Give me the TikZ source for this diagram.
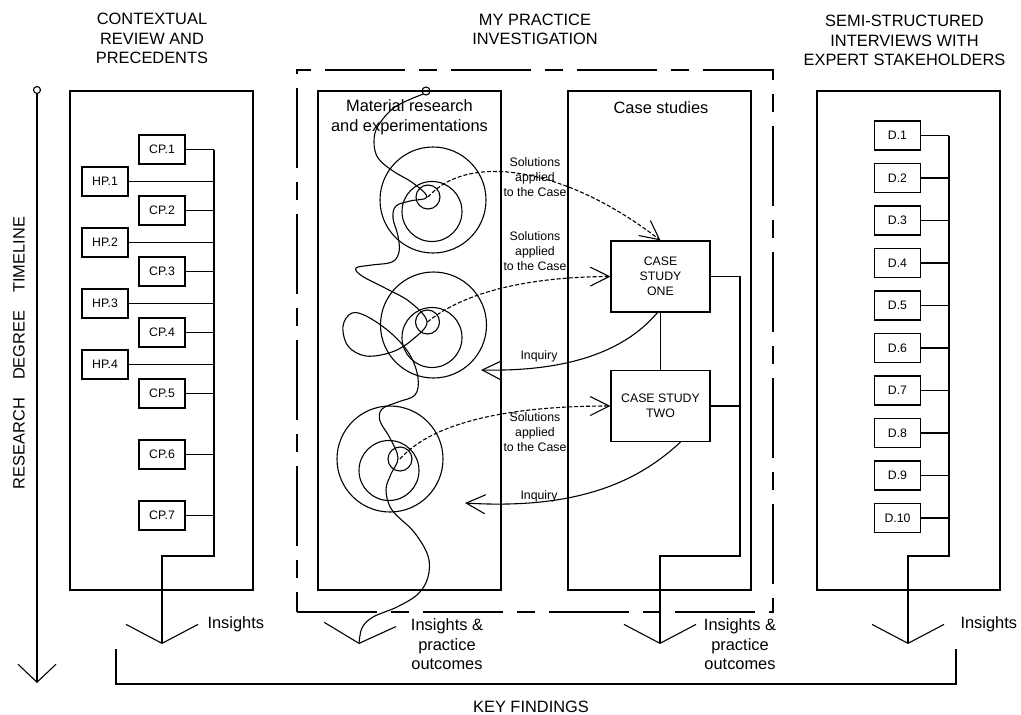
\documentclass[tikz,border=0pt]{standalone}
\usepackage{fontspec}
\setmainfont{Liberation Sans}
\usetikzlibrary{arrows.meta}
\newcommand{\headfont}{\fontsize{16.4}{19.5}\selectfont}
\newcommand{\notefont}{\fontsize{12.3}{15}\selectfont}

\begin{document}
\begin{tikzpicture}[
  x=1pt, y=-1pt,
  line width=1.1pt,
  heading/.style={align=center, font=\headfont, inner sep=0pt},
  notetext/.style={align=center, font=\notefont, inner sep=0pt},
  bigbox/.style={draw, minimum width=183pt, minimum height=499pt, inner sep=0pt},
  itembox/.style={draw, minimum width=46pt, minimum height=29pt, inner sep=0pt, font=\notefont},
  casebox/.style={draw, minimum width=99pt, minimum height=71pt, inner sep=0pt,
                  align=center, font=\notefont},
  ring/.style={draw, circle, inner sep=0pt},
  dashlink/.style={dash pattern=on 4pt off 2pt, -{Straight Barb[length=19pt, width=19pt]}},
  inquiry/.style={-{Straight Barb[length=19pt, width=19pt]}},
  outarrow/.style={-{Straight Barb[length=19pt, width=72pt]}}
]
  \useasboundingbox (0,0) rectangle (1021,715);

  % timeline
  \node[ring, minimum size=7pt] (tlstart) at (37,90) {};
  \coordinate (tlend) at (37,683);
  \draw[-{Straight Barb[length=18pt, width=38pt]}] (tlstart) -- (tlend);
  \node[heading, rotate=90] (tllabel) at (19,353)
    {RESEARCH\hspace{1.1em}DEGREE\hspace{1.1em}TIMELINE};

  % headings
  \node[heading] (ctxhead) at (152,38.5) {CONTEXTUAL\\REVIEW AND\\PRECEDENTS};
  \node[heading] (prachead) at (535,29.5) {MY PRACTICE\\INVESTIGATION};
  \node[heading] (inthead) at (904.5,40.5) {SEMI-STRUCTURED\\INTERVIEWS WITH\\EXPERT STAKEHOLDERS};

  % frames
  \node[draw, minimum width=476pt, minimum height=542pt, inner sep=0pt,
        dash pattern=on 80pt off 14pt on 18pt off 14pt] (practice) at (535,341) {};
  \node[bigbox] (ctx) at (161.5,340.5) {};
  \node[bigbox] (mat) at (409.5,340.5) {};
  \node[bigbox] (case) at (659.5,340.5) {};
  \node[bigbox] (int) at (908.5,340.5) {};
  \node[heading] (mattitle) at (409.5,117.5) {Material research\\and experimentations};
  \node[heading] (casetitle) at (661,108) {Case studies};

  % contextual review
  \coordinate (ctxbend) at (214,556);
  \coordinate (ctxout) at (162,644);
  \foreach \i/\y in {1/149.5, 2/210.5, 3/271.5, 4/332.5, 5/393.5, 6/454.5, 7/515.5} {
    \node[itembox] (cp\i) at (162,\y) {CP.\i};
    \draw (cp\i.east) -- (cp\i.east -| ctxbend);
  }
  \foreach \i/\y in {1/181.5, 2/242.5, 3/303.5, 4/364.5} {
    \node[itembox] (hp\i) at (105,\y) {HP.\i};
    \draw (hp\i.east) -- (hp\i.east -| ctxbend);
  }
  \draw[outarrow] (cp1.east -| ctxbend) -- (ctxbend) -| (ctxout);
  \node[heading, anchor=west] (ctxins) at (207,624) {Insights};

  % interviews
  \coordinate (intbend) at (949,556);
  \coordinate (intout) at (908,644);
  \foreach \i in {1,...,10} {
    \node[itembox] (d\i) at (897.5,{135.5+42.5*(\i-1)}) {D.\i};
    \draw (d\i.east) -- (d\i.east -| intbend);
  }
  \draw[outarrow] (d1.east -| intbend) -- (intbend) -| (intout);
  \node[heading, anchor=west] (intins) at (960,624) {Insights};

  % case studies
  \node[casebox] (cs1) at (660.5,276.5) {CASE\\STUDY\\ONE};
  \node[casebox] (cs2) at (660.5,406) {CASE STUDY\\TWO};
  \draw (cs1) -- (cs2);
  \coordinate (casebend) at (740,556);
  \coordinate (caseout) at (660,644);
  \draw (cs2.east) -- (cs2.east -| casebend);
  \draw[outarrow] (cs1.east) -| (casebend) -| (caseout);
  \node[heading] (caseins) at (740,644.5) {Insights \&\\practice\\outcomes};
  \node[heading] (matins) at (447,644.5) {Insights \&\\practice\\outcomes};

  % material research rings
  \foreach \g/\ox/\oy/\mx/\my/\sx/\sy in {a/433/200/432/211.5/428/197,
      b/433.5/325/432/337.5/427.5/322, c/390/459/389/470.5/400/459} {
    \node[ring, minimum size=106pt] (outer\g) at (\ox,\oy) {};
    \node[ring, minimum size=60pt] (mid\g) at (\mx,\my) {};
    \node[ring, minimum size=24pt] (core\g) at (\sx,\sy) {};
  }

  % solutions and inquiries
  \draw[dashlink] (corea.center) .. controls (470,150) and (570,170) .. (cs1.north);
  \draw[dashlink] (coreb.center) .. controls (460,295) and (520,277) .. (cs1.west);
  \draw[dashlink] (corec.center) .. controls (430,425) and (500,406) .. (cs2.west);
  \coordinate (inq1) at (481,370);
  \coordinate (inq2) at (465,503);
  \draw[inquiry] ([xshift=-3pt]cs1.south) .. controls (630,345) and (580,372) .. (inq1);
  \draw[inquiry] ([xshift=20pt]cs2.south) .. controls (640,480) and (580,510) .. (inq2);
  \node[notetext] (sol1) at (535,177) {Solutions\\applied\\to the Case};
  \node[notetext] (sol2) at (535,251) {Solutions\\applied\\to the Case};
  \node[notetext] (sol3) at (535,432) {Solutions\\applied\\to the Case};
  \node[notetext] (inqlab1) at (539,356) {Inquiry};
  \node[notetext] (inqlab2) at (539,496) {Inquiry};

  % research path
  \node[ring, minimum size=8pt] (sqstart) at (426,91) {};
  \coordinate (sqend) at (359,644);
  \draw[outarrow] plot[smooth, tension=0.6] coordinates {(sqstart.south west)
    (395,107) (378,126) (374,142) (378,158) (393,171) (413,183) (427,197)
    (410,201) (396,206) (393,218) (398,236) (399,252) (392,262) (372,265)
    (356,268) (362,276) (385,288) (410,302) (427,322) (412,340) (392,352)
    (366,356) (348,346) (343,326) (352,313) (368,317) (392,334) (410,355)
    (418,378) (415,395) (398,402) (382,409) (380,421) (390,438) (398,458)
    (391,474) (386,490) (392,510) (414,532) (428,556) (428,577) (418,594)
    (397,607) (373,617) (362,628) (sqend)};

  % key findings
  \coordinate (kfleft) at (116,649);
  \coordinate (kfright) at (956,649);
  \draw (kfleft) -- ++(0,35) -| (kfright);
  \node[heading] (kftext) at (531,707) {KEY FINDINGS};
\end{tikzpicture}
\end{document}
